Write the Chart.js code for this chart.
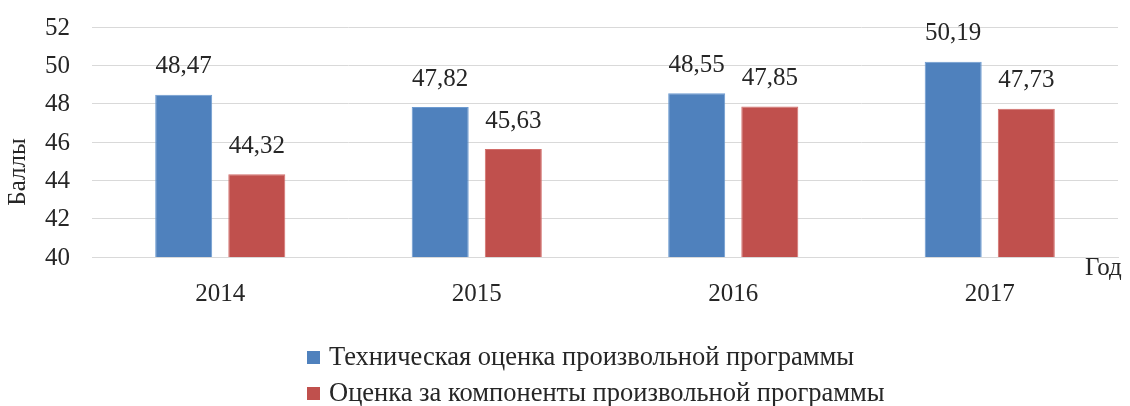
<!DOCTYPE html>
<html>
<head>
<meta charset="utf-8">
<script src="https://cdn.jsdelivr.net/npm/chart.js@4"></script>
<style>
  html, body { margin: 0; padding: 0; background: #fff; }
  #wrap { width: 1130px; height: 406px; }
</style>
</head>
<body>
<div id="wrap"><canvas id="myChart" width="1130" height="406"></canvas></div>
<script>
const years = ['2014', '2015', '2016', '2017'];
const techScores = [48.47, 47.82, 48.55, 50.19];
const componentScores = [44.32, 45.63, 47.85, 47.73];
const seriesNames = ['Техническая оценка произвольной программы', 'Оценка за компоненты произвольной программы'];
const yTicks = [40, 42, 44, 46, 48, 50, 52];

const FONT = '"Liberation Serif", "Times New Roman", serif';
const TEXT = '#262626';

// y tick labels, value labels above bars, axis titles, legend
const extras = {
    id: 'extras',
    afterDatasetsDraw(chart) {
        const c = chart.ctx;
        const yScale = chart.scales.y;
        c.save();
        c.font = '25px ' + FONT;
        c.fillStyle = TEXT;
        c.textBaseline = 'middle';

        c.textAlign = 'right';
        yTicks.forEach(v => c.fillText(String(v), 70, yScale.getPixelForValue(v) + 1));

        c.textAlign = 'center';
        chart.data.datasets.forEach((ds, i) => {
            chart.getDatasetMeta(i).data.forEach((bar, j) => {
                c.fillText(ds.data[j].toFixed(2).replace('.', ','), bar.x, bar.y - 28);
            });
        });

        // y axis title
        c.save();
        c.translate(18, 172);
        c.rotate(-Math.PI / 2);
        c.fillText('Баллы', 0, 0);
        c.restore();

        // x axis title
        c.textAlign = 'left';
        c.fillText('Год', 1085, 268);

        // legend, two rows
        c.font = '26.5px ' + FONT;
        chart.data.datasets.forEach((ds, i) => {
            const y = 357 + i * 36;
            c.fillStyle = ds.backgroundColor;
            c.fillRect(307, y - 6, 13, 13);
            c.fillStyle = TEXT;
            c.fillText(ds.label, 329, y + 1);
        });
        c.restore();
    }
};

new Chart(document.getElementById('myChart'), {
    type: 'bar',
    data: {
        labels: years,
        datasets: [{
            label: seriesNames[0],
            data: techScores,
            backgroundColor: '#4F81BD',
            borderColor: '#6d9bd1',
            borderWidth: 1
        }, {
            label: seriesNames[1],
            data: componentScores,
            backgroundColor: '#C0504D',
            borderColor: '#d26d6a',
            borderWidth: 1
        }]
    },
    options: {
        responsive: false,
        animation: false,
        layout: { padding: { top: 27, right: 12, left: 0, bottom: 0 } },
        datasets: { bar: { categoryPercentage: 0.57, barPercentage: 0.78 } },
        plugins: {
            legend: { display: false },
            tooltip: { enabled: false }
        },
        scales: {
            x: {
                grid: { display: false },
                border: { color: '#d9d9d9', width: 1 },
                ticks: { color: TEXT, font: { family: FONT, size: 25 }, padding: 14 },
                afterFit(scale) { scale.height = 149; }
            },
            y: {
                min: 40,
                max: 52,
                afterBuildTicks(scale) { scale.ticks = yTicks.map(v => ({ value: v })); },
                grid: { color: '#d9d9d9', drawTicks: false },
                border: { display: false },
                ticks: { display: false },
                afterFit(scale) { scale.width = 92; }
            }
        }
    },
    plugins: [extras]
});
</script>
</body>
</html>
